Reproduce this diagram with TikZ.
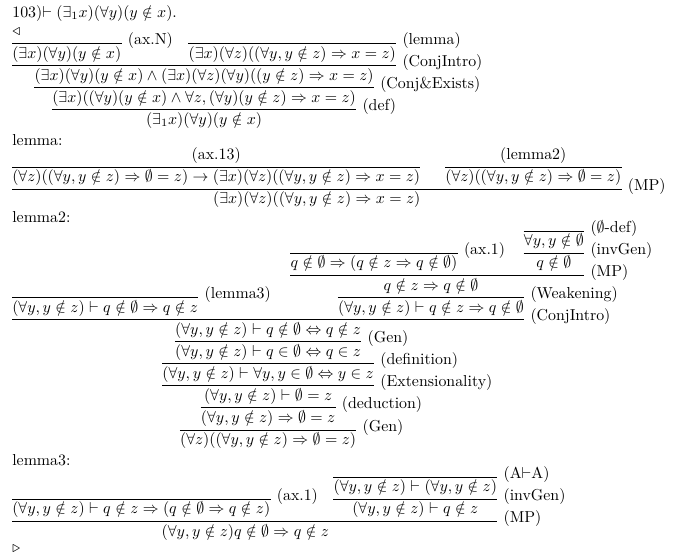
\documentclass[tikz,border=0pt]{standalone}
\usetikzlibrary{calc}
\newcommand\myYz{(\forall y, y\notin z)}
\begin{document}
\begin{tikzpicture}[x=0.63pt,y=-0.63pt,
  fm/.style={inner sep=0pt,anchor=base},
  fml/.style={inner sep=0pt,anchor=base west},
  bar/.style={line width=0.4pt},
  lab/.style={inner sep=0pt,anchor=west,xshift=3.8pt,yshift=1.8pt}]
\useasboundingbox (0,0) rectangle (677,558);
% header
\node[fml] (hd) at (12,17) {103)$\vdash (\exists_1 x)(\forall y)(y\notin x)$.};
\node[fml] (ltri) at (12,35) {$\triangleleft$};
% proof 1
\node[fml] (p1a) at (12,58.3) {$(\exists x)(\forall y)(y\notin x)$};
\draw[bar] (p1a.west |- 0,43.5) -- (p1a.east |- 0,43.5) node[lab] (laxn) {(ax.N)};
\coordinate (g1) at ([xshift=9.5pt]laxn.east);
\node[fml] (p1b) at (g1 |- 0,58.3) {$(\exists x)(\forall z)((\forall y, y\notin z)\Rightarrow x=z)$};
\draw[bar] (p1b.west |- 0,43.5) -- (p1b.east |- 0,43.5) node[lab] {(lemma)};
\draw[bar] (p1a.west |- 0,65.6) -- (p1b.east |- 0,65.6) node[lab] {(ConjIntro)};
\coordinate (m1) at ($(p1a.west)!0.5!(p1b.east)$);
\node[fm] (p1c) at (m1 |- 0,80.4) {$(\exists x)(\forall y)(y\notin x)\wedge(\exists x)(\forall z)(\forall y)((y\notin z)\Rightarrow x=z)$};
\draw[bar] (p1c.west |- 0,87.7) -- (p1c.east |- 0,87.7) node[lab] {(Conj\&Exists)};
\node[fm] (p1d) at (m1 |- 0,102.5) {$(\exists x)((\forall y)(y\notin x)\wedge\forall z,(\forall y)(y\notin z)\Rightarrow x=z)$};
\draw[bar] (p1d.west |- 0,109.8) -- (p1d.east |- 0,109.8) node[lab] {(def)};
\node[fm] (p1e) at (m1 |- 0,124.6) {$(\exists_1 x)(\forall y)(y\notin x)$};
% lemma
\node[fml] (lm) at (12,145) {lemma:};
\node[fml] (q1) at (12,181.8) {$(\forall z)((\forall y, y\notin z)\Rightarrow\emptyset=z)\to(\exists x)(\forall z)((\forall y, y\notin z)\Rightarrow x=z)$};
\node[fm] (q1p) at (q1.center |- 0,159.7) {(ax.13)};
\draw[bar] (q1.west |- 0,167) -- (q1.east |- 0,167);
\coordinate (g2) at ([xshift=15.5pt]q1.east);
\node[fml] (q2) at (g2 |- 0,181.8) {$(\forall z)((\forall y, y\notin z)\Rightarrow\emptyset=z)$};
\node[fm] (q2p) at (q2.center |- 0,159.7) {(lemma2)};
\draw[bar] (q2.west |- 0,167) -- (q2.east |- 0,167);
\draw[bar] (q1.west |- 0,189.1) -- (q2.east |- 0,189.1) node[lab] {(MP)};
\coordinate (m2) at ($(q1.west)!0.5!(q2.east)$);
\node[fm] (q3) at (m2 |- 0,203.9) {$(\exists x)(\forall z)((\forall y, y\notin z)\Rightarrow x=z)$};
% lemma2
\node[fml] (lm2) at (12,222) {lemma2:};
\node[fml] (r6) at (12,312.1) {$\myYz\vdash q\notin\emptyset\Rightarrow q\notin z$};
\draw[bar] (r6.west |- 0,297.3) -- (r6.east |- 0,297.3) node[lab] (llem3) {(lemma3)};
\coordinate (g3) at ([xshift=12pt]llem3.east);
\node[fml] (r3) at (g3 |- 0,267.9) {$q\notin\emptyset\Rightarrow(q\notin z\Rightarrow q\notin\emptyset)$};
\draw[bar] (r3.west |- 0,253.1) -- (r3.east |- 0,253.1) node[lab] (lax1) {(ax.1)};
\coordinate (g4) at ([xshift=11.5pt]lax1.east);
\node[fml] (r1) at (g4 |- 0,245.8) {$\forall y, y\notin\emptyset$};
\draw[bar] (r1.west |- 0,231) -- (r1.east |- 0,231) node[lab] {($\emptyset$-def)};
\draw[bar] (r1.west |- 0,253.1) -- (r1.east |- 0,253.1) node[lab] {(invGen)};
\node[fm] (r2) at (r1.center |- 0,267.9) {$q\notin\emptyset$};
\draw[bar] (r3.west |- 0,275.2) -- (r1.east |- 0,275.2) node[lab] {(MP)};
\coordinate (m3) at ($(r3.west)!0.5!(r2.east)$);
\node[fm] (r4) at (m3 |- 0,290) {$q\notin z\Rightarrow q\notin\emptyset$};
\node[fm] (r5) at (m3 |- 0,312.1) {$\myYz\vdash q\notin z\Rightarrow q\notin\emptyset$};
\draw[bar] (r5.west |- 0,297.3) -- (r5.east |- 0,297.3) node[lab] {(Weakening)};
\draw[bar] (r6.west |- 0,319.4) -- (r5.east |- 0,319.4) node[lab] {(ConjIntro)};
\coordinate (m4) at ($(r6.west)!0.5!(r5.east)$);
\node[fm] (r7) at (m4 |- 0,334.2) {$\myYz\vdash q\notin\emptyset\Leftrightarrow q\notin z$};
\draw[bar] (r7.west |- 0,341.5) -- (r7.east |- 0,341.5) node[lab] {(Gen)};
\node[fm] (r8) at (m4 |- 0,356.3) {$\myYz\vdash q\in\emptyset\Leftrightarrow q\in z$};
\node[fm] (r9) at (m4 |- 0,378.4) {$\myYz\vdash\forall y, y\in\emptyset\Leftrightarrow y\in z$};
\draw[bar] (r9.west |- 0,363.6) -- (r9.east |- 0,363.6) node[lab] {(definition)};
\draw[bar] (r9.west |- 0,385.7) -- (r9.east |- 0,385.7) node[lab] {(Extensionality)};
\node[fm] (r10) at (m4 |- 0,400.5) {$\myYz\vdash\emptyset=z$};
\node[fm] (r11) at (m4 |- 0,422.6) {$\myYz\Rightarrow\emptyset=z$};
\draw[bar] (r11.west |- 0,407.8) -- (r11.east |- 0,407.8) node[lab] {(deduction)};
\node[fm] (r12) at (m4 |- 0,444.7) {$(\forall z)(\myYz\Rightarrow\emptyset=z)$};
\draw[bar] (r12.west |- 0,429.9) -- (r12.east |- 0,429.9) node[lab] {(Gen)};
% lemma3
\node[fml] (lm3) at (12,465) {lemma3:};
\node[fml] (s3) at (12,513.9) {$\myYz\vdash q\notin z\Rightarrow(q\notin\emptyset\Rightarrow q\notin z)$};
\draw[bar] (s3.west |- 0,499.1) -- (s3.east |- 0,499.1) node[lab] (lax1b) {(ax.1)};
\coordinate (g5) at ([xshift=9.5pt]lax1b.east);
\node[fml] (s1) at (g5 |- 0,491.8) {$\myYz\vdash\myYz$};
\draw[bar] (s1.west |- 0,477) -- (s1.east |- 0,477) node[lab] {(A$\vdash$A)};
\draw[bar] (s1.west |- 0,499.1) -- (s1.east |- 0,499.1) node[lab] {(invGen)};
\node[fm] (s2) at (s1.center |- 0,513.9) {$\myYz\vdash q\notin z$};
\draw[bar] (s3.west |- 0,521.2) -- (s1.east |- 0,521.2) node[lab] {(MP)};
\coordinate (m5) at ($(s3.west)!0.5!(s2.east)$);
\node[fm] (s4) at (m5 |- 0,536) {$\myYz q\notin\emptyset\Rightarrow q\notin z$};
\node[fml] (rtri) at (12,552) {$\triangleright$};
\end{tikzpicture}
\end{document}
